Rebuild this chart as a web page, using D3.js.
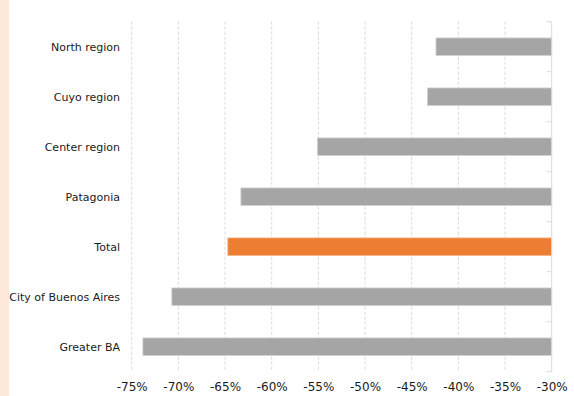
<!DOCTYPE html>
<html>
<head>
<meta charset="utf-8">
<script src="https://cdn.jsdelivr.net/npm/d3@7"></script>
<style>
  html, body { margin: 0; padding: 0; background: #fff; }
  svg { display: block; }
  text { font-family: "DejaVu Sans", sans-serif; fill: #1a1a1a; }
</style>
</head>
<body>
<svg id="chart" width="574" height="396"></svg>
<script>
// Regions, top to bottom
const categories = ["North region", "Cuyo region", "Center region", "Patagonia", "Total", "City of Buenos Aires", "Greater BA"];
// Percentage change by region
const values = [-42.4, -43.3, -55.1, -63.3, -64.7, -70.7, -73.8];
// Highlighted category
const highlight = "Total";
// Axis ticks
const tickValues = [-75, -70, -65, -60, -55, -50, -45, -40, -35, -30];

const svg = d3.select("#chart");
const W = 574, H = 396;
const margin = { left: 131.7, right: 22.3, top: 21.7, bottom: 24.3 };

// Side accent strip
svg.append("rect")
  .attr("x", 0).attr("y", 0)
  .attr("width", 9).attr("height", H)
  .attr("fill", "#fde9d9");

const x = d3.scaleLinear()
  .domain([-75, -30])
  .range([margin.left, W - margin.right]);

const y = d3.scaleBand()
  .domain(categories)
  .range([margin.top, H - margin.bottom])
  .paddingInner(0.65)
  .paddingOuter(0.325);

// Dashed vertical gridlines
svg.append("g")
  .selectAll("line")
  .data(tickValues.filter(v => v !== -30))
  .join("line")
  .attr("x1", d => x(d)).attr("x2", d => x(d))
  .attr("y1", margin.top).attr("y2", H - margin.bottom)
  .attr("stroke", "#d9d9d9")
  .attr("stroke-width", 1)
  .attr("stroke-dasharray", "3,2");

// Bars grow leftward from the -30% baseline
svg.append("g")
  .selectAll("rect")
  .data(categories.map((c, i) => ({ c, v: values[i] })))
  .join("rect")
  .attr("x", d => x(d.v))
  .attr("y", d => y(d.c))
  .attr("width", d => x(-30) - x(d.v))
  .attr("height", y.bandwidth())
  .attr("fill", d => d.c === highlight ? "#ed7d31" : "#a5a5a5")
  .attr("stroke", d => d.c === highlight ? "#f4b183" : "#d0d0d0")
  .attr("stroke-width", 0.8);

// Category axis on the right edge, labels on the left
const bandEdges = categories.map(c => y(c) - y.step() * y.paddingInner() / 2);
bandEdges.push(H - margin.bottom);

const axisG = svg.append("g");
axisG.append("line")
  .attr("x1", x(-30)).attr("x2", x(-30))
  .attr("y1", margin.top).attr("y2", H - margin.bottom)
  .attr("stroke", "#d9d9d9");
axisG.selectAll("line.tick")
  .data(bandEdges)
  .join("line")
  .attr("class", "tick")
  .attr("x1", x(-30) - 5).attr("x2", x(-30))
  .attr("y1", d => d).attr("y2", d => d)
  .attr("stroke", "#d9d9d9");

svg.append("g")
  .selectAll("text")
  .data(categories)
  .join("text")
  .attr("x", 120)
  .attr("y", d => y(d) + y.bandwidth() / 2)
  .attr("dy", "0.35em")
  .attr("text-anchor", "end")
  .attr("font-size", 11)
  .text(d => d);

// Value axis labels along the bottom
const xAxis = d3.axisBottom(x)
  .tickValues(tickValues)
  .tickSize(0)
  .tickPadding(0)
  .tickFormat(d => d + "%");
const xg = svg.append("g")
  .attr("transform", `translate(0,${H - margin.bottom})`)
  .call(xAxis);
xg.select(".domain").remove();
xg.selectAll("text")
  .attr("y", 19)
  .attr("dy", "0")
  .attr("font-size", 12)
  .style("font-family", '"DejaVu Sans", sans-serif')
  .attr("fill", "#1a1a1a");
</script>
</body>
</html>
